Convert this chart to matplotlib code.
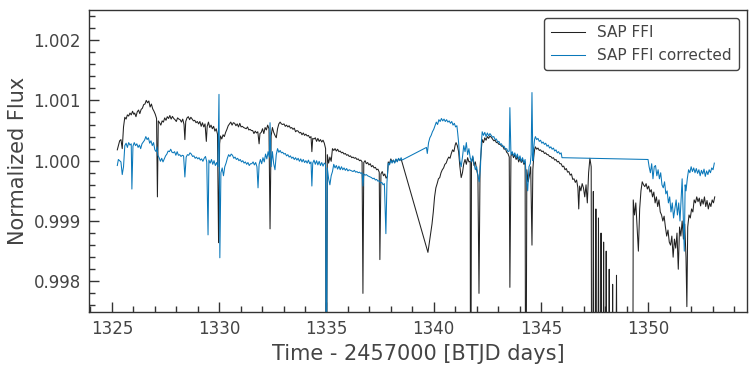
import matplotlib
matplotlib.use("Agg")
import matplotlib.pyplot as plt
from matplotlib.ticker import MultipleLocator, FormatStrFormatter
import numpy as np

# SAP FFI light curve: time (BTJD) and flux offset from 1 in ppm
sap_time = [
    1325.25, 1325.30, 1325.36, 1325.42, 1325.48, 1325.54, 1325.60, 1325.66, 1325.72, 1325.78,
    1325.84, 1325.90, 1325.96, 1326.02, 1326.06, 1326.12, 1326.18, 1326.24, 1326.30, 1326.36,
    1326.42, 1326.48, 1326.54, 1326.60, 1326.66, 1326.72, 1326.78, 1326.84, 1326.90, 1326.96,
    1327.02, 1327.08, 1327.12, 1327.16, 1327.22, 1327.28, 1327.34, 1327.40, 1327.46, 1327.52,
    1327.58, 1327.64, 1327.70, 1327.76, 1327.82, 1327.88, 1327.94, 1328.00, 1328.06, 1328.12,
    1328.18, 1328.24, 1328.30, 1328.36, 1328.40, 1328.44, 1328.50, 1328.56, 1328.62, 1328.68,
    1328.74, 1328.80, 1328.86, 1328.92, 1328.98, 1329.04, 1329.10, 1329.16, 1329.22, 1329.28,
    1329.34, 1329.40, 1329.44, 1329.50, 1329.56, 1329.62, 1329.68, 1329.74, 1329.80, 1329.86,
    1329.92, 1329.97, 1330.02, 1330.06, 1330.12, 1330.18, 1330.24, 1330.30, 1330.36, 1330.42,
    1330.48, 1330.54, 1330.60, 1330.66, 1330.72, 1330.78, 1330.84, 1330.90, 1330.96, 1331.02,
    1331.08, 1331.14, 1331.20, 1331.26, 1331.32, 1331.38, 1331.44, 1331.50, 1331.56, 1331.62,
    1331.68, 1331.74, 1331.80, 1331.86, 1331.90, 1331.96, 1332.02, 1332.08, 1332.14, 1332.20,
    1332.26, 1332.32, 1332.37, 1332.42, 1332.48, 1332.54, 1332.60, 1332.66, 1332.72, 1332.78,
    1332.84, 1332.90, 1332.96, 1333.02, 1333.08, 1333.14, 1333.20, 1333.26, 1333.32, 1333.38,
    1333.44, 1333.50, 1333.56, 1333.62, 1333.68, 1333.74, 1333.80, 1333.86, 1333.92, 1333.98,
    1334.04, 1334.10, 1334.16, 1334.22, 1334.28, 1334.32, 1334.36, 1334.42, 1334.48, 1334.54,
    1334.60, 1334.66, 1334.72, 1334.78, 1334.84, 1334.90, 1334.96, 1334.99, 1335.04, 1335.10,
    1335.16, 1335.22, 1335.28, 1335.34, 1335.40, 1335.46, 1335.52, 1335.58, 1335.64, 1335.70,
    1335.76, 1335.82, 1335.88, 1335.94, 1336.00, 1336.06, 1336.12, 1336.18, 1336.24, 1336.30,
    1336.36, 1336.42, 1336.48, 1336.54, 1336.60, 1336.66, 1336.70, 1336.74, 1336.80, 1336.86,
    1336.92, 1336.98, 1337.04, 1337.10, 1337.16, 1337.22, 1337.28, 1337.34, 1337.40, 1337.46,
    1337.49, 1337.54, 1337.60, 1337.66, 1337.72, 1337.78, 1337.84, 1337.88, 1337.94, 1338.00,
    1338.06, 1338.12, 1338.18, 1338.24, 1338.30, 1338.36, 1338.42, 1338.48, 1338.52,
    1339.73, 1339.80, 1339.86, 1339.92, 1339.98, 1340.04, 1340.10, 1340.16, 1340.22, 1340.28,
    1340.34, 1340.40, 1340.46, 1340.52, 1340.58, 1340.64, 1340.70, 1340.76, 1340.82, 1340.88,
    1340.94, 1341.00, 1341.04, 1341.10, 1341.16, 1341.22, 1341.28, 1341.34, 1341.40, 1341.46,
    1341.52, 1341.58, 1341.64, 1341.70, 1341.72, 1341.76, 1341.82, 1341.88, 1341.94, 1342.00,
    1342.06, 1342.11, 1342.16, 1342.22, 1342.26, 1342.32, 1342.38, 1342.44, 1342.50, 1342.56,
    1342.62, 1342.68, 1342.74, 1342.80, 1342.86, 1342.92, 1342.98, 1343.04, 1343.10, 1343.16,
    1343.22, 1343.28, 1343.34, 1343.40, 1343.46, 1343.52, 1343.55, 1343.60, 1343.66, 1343.72,
    1343.78, 1343.84, 1343.90, 1343.96, 1344.02, 1344.08, 1344.14, 1344.20, 1344.26, 1344.29,
    1344.34, 1344.40, 1344.46, 1344.52, 1344.58, 1344.62, 1344.66, 1344.70, 1344.74, 1344.80,
    1344.86, 1344.92, 1344.98, 1345.04, 1345.10, 1345.16, 1345.22, 1345.28, 1345.34, 1345.40,
    1345.46, 1345.52, 1345.58, 1345.64, 1345.70, 1345.76, 1345.82, 1345.88, 1345.94, 1346.00,
    1346.06, 1346.12, 1346.18, 1346.24, 1346.30, 1346.36, 1346.42, 1346.48, 1346.54, 1346.60,
    1346.66, 1346.72, 1346.76, 1346.80, 1346.86, 1346.92, 1346.98, 1347.04, 1347.10, 1347.16,
    1347.22, 1347.28, 1347.34, 1347.38, 1347.44, 1347.50, 1347.56, 1347.62, 1347.68, 1347.74,
    1347.80, 1347.86, 1347.92, 1347.98, 1348.04, 1348.10, 1348.18, 1348.26, 1348.34, 1348.42,
    1348.52, 1348.60, 1349.26,
    1349.30, 1349.36, 1349.42, 1349.48, 1349.54, 1349.60, 1349.66, 1349.72, 1349.78, 1349.84,
    1349.90, 1349.96, 1350.02, 1350.08, 1350.14, 1350.20, 1350.26, 1350.32, 1350.38, 1350.44,
    1350.50, 1350.56, 1350.62, 1350.68, 1350.74, 1350.80, 1350.86, 1350.92, 1350.98, 1351.04,
    1351.10, 1351.16, 1351.22, 1351.28, 1351.34, 1351.40, 1351.46, 1351.52, 1351.58, 1351.64,
    1351.70, 1351.76, 1351.80, 1351.84, 1351.90, 1351.96, 1352.02, 1352.08, 1352.14, 1352.20,
    1352.26, 1352.32, 1352.38, 1352.44, 1352.50, 1352.56, 1352.62, 1352.68, 1352.74, 1352.80,
    1352.86, 1352.92, 1352.98, 1353.04, 1353.10,
]
sap_ppm = [
    180, 250, 330, 350, 200, 560, 720, 690, 760, 740,
    790, 760, 820, 770, 790, 730, 810, 840, 780, 850,
    870, 930, 940, 1000, 960, 990, 890, 940, 860, 820,
    770, 700, -600, 660, 630, 590, 660, 640, 710, 670,
    730, 700, 750, 690, 735, 700, 680, 650, 710, 690,
    680, 640, 690, 600, 350, 650, 710, 730, 680, 720,
    690, 660, 670, 630, 650, 610, 650, 570, 630, 560,
    610, 320, 570, 640, 550, 590, 530, 570, 490, 530,
    440, -1360, 280, 410, 360, 430, 400, 470, 520, 580,
    610, 640, 590, 630, 620, 580, 610, 560, 620, 560,
    570, 550, 540, 530, 560, 510, 520, 500, 500, 450,
    490, 460, 480, 280, 450, 470, 530, 450, 550, 510,
    590, 530, -1130, 410, 550, 470, 420, 380, 530, 610,
    640, 610, 600, 610, 570, 590, 560, 580, 540, 550,
    520, 540, 480, 500, 490, 460, 470, 430, 460, 420,
    440, 410, 420, 380, 400, 150, 370, 360, 380, 320,
    370, 320, 350, 310, 340, 290, 200, -6000, 100, -40,
    60, -10, 200, 170, 200, 160, 190, 150, 160, 130,
    140, 110, 120, 90, 100, 70, 80, 50, 60, 40,
    50, 20, 30, 0, 10, -20, -2200, -30, 0, -50,
    -30, -70, -50, -100, -80, -120, -110, -150, -140, -190,
    -1640, -220, -180, -250, -220, -290, -260, -20, -50, 30,
    -20, 10, -30, 20, -10, 30, 10, 20, -20,
    -1520, -1350, -1200, -1050, -850, -600, -450, -380, -300, -280,
    -200, -150, -120, -60, -40, 20, 60, 40, 120, 180,
    150, 260, 300, 250, 150, -100, -280, -200, -50, 20,
    -60, 50, -20, -10, -6000, -30, 60, -80, -20, -150,
    -250, -2200, -100, 200, 350, 300, 380, 340, 400, 370,
    410, 390, 360, 330, 340, 300, 300, 270, 270, 240,
    250, 190, 200, 140, 120, 60, -2100, 80, 120, 50,
    100, 20, 70, -20, 40, -30, 20, -60, -20, -6000,
    -150, -350, -250, -100, -1400, -150, 50, 180, 230, 190,
    210, 170, 180, 150, 160, 120, 130, 100, 100, 70,
    70, 40, 50, 10, 20, -20, -10, -50, -50, -100,
    -90, -150, -130, -190, -180, -240, -220, -310, -300, -360,
    -320, -450, -800, -420, -500, -380, -450, -600, -400, -700,
    -200, 40, -100, -8000, -510, -8000, -800, -8000, -950, -8000,
    -1200, -8000, -1350, -8000, -1500, -8000, -1800, -8000, -2050, -8000,
    -1900, -8000, -8000,
    -650, -900, -700, -1100, -1500, -800, -500, -350, -400, -430,
    -380, -470, -420, -520, -480, -600, -520, -700, -600, -760,
    -650, -850, -900, -1000, -920, -1100, -1250, -1150, -1350, -1400,
    -1250, -1600, -1300, -1450, -1200, -1800, -1100, -1250, -1000, -1300,
    -1050, -1600, -2420, -1100, -900, -950, -800, -850, -650, -700,
    -600, -680, -620, -750, -640, -720, -600, -760, -660, -800,
    -700, -760, -650, -700, -600,
]

# SAP FFI corrected light curve
cor_time = [
    1325.25, 1325.30, 1325.36, 1325.42, 1325.48, 1325.54, 1325.60, 1325.66, 1325.72, 1325.78,
    1325.84, 1325.90, 1325.93, 1325.98, 1326.04, 1326.10, 1326.16, 1326.22, 1326.28, 1326.34,
    1326.40, 1326.46, 1326.52, 1326.58, 1326.64, 1326.70, 1326.76, 1326.82, 1326.88, 1326.94,
    1327.00, 1327.06, 1327.10, 1327.14, 1327.20, 1327.26, 1327.32, 1327.38, 1327.44, 1327.50,
    1327.56, 1327.62, 1327.68, 1327.74, 1327.80, 1327.86, 1327.92, 1327.98, 1328.04, 1328.10,
    1328.16, 1328.22, 1328.28, 1328.34, 1328.40, 1328.46, 1328.52, 1328.58, 1328.64, 1328.70,
    1328.76, 1328.82, 1328.88, 1328.94, 1329.00, 1329.06, 1329.12, 1329.18, 1329.24, 1329.30,
    1329.36, 1329.42, 1329.48, 1329.52, 1329.58, 1329.64, 1329.70, 1329.76, 1329.82, 1329.88,
    1329.94, 1329.99, 1330.03, 1330.08, 1330.14, 1330.20, 1330.26, 1330.32, 1330.38, 1330.44,
    1330.50, 1330.56, 1330.62, 1330.68, 1330.74, 1330.80, 1330.86, 1330.92, 1330.98, 1331.04,
    1331.10, 1331.16, 1331.22, 1331.28, 1331.34, 1331.40, 1331.46, 1331.52, 1331.58, 1331.64,
    1331.70, 1331.76, 1331.81, 1331.86, 1331.92, 1331.98, 1332.04, 1332.10, 1332.16, 1332.22,
    1332.28, 1332.34, 1332.37, 1332.42, 1332.48, 1332.54, 1332.60, 1332.66, 1332.72, 1332.78,
    1332.84, 1332.90, 1332.96, 1333.02, 1333.08, 1333.14, 1333.20, 1333.26, 1333.32, 1333.38,
    1333.44, 1333.50, 1333.56, 1333.62, 1333.68, 1333.74, 1333.80, 1333.86, 1333.92, 1333.98,
    1334.04, 1334.10, 1334.16, 1334.22, 1334.28, 1334.32, 1334.36, 1334.42, 1334.48, 1334.54,
    1334.60, 1334.66, 1334.72, 1334.78, 1334.84, 1334.90, 1334.96, 1334.99, 1335.04, 1335.10,
    1335.16, 1335.22, 1335.28, 1335.34, 1335.40, 1335.46, 1335.52, 1335.58, 1335.64, 1335.70,
    1335.76, 1335.82, 1335.88, 1335.94, 1336.00, 1336.06, 1336.12, 1336.18, 1336.24, 1336.30,
    1336.36, 1336.42, 1336.48, 1336.54, 1336.60, 1336.66, 1336.70, 1336.74, 1336.80, 1336.86,
    1336.92, 1336.98, 1337.04, 1337.10, 1337.16, 1337.22, 1337.28, 1337.34, 1337.40, 1337.46,
    1337.52, 1337.58, 1337.64, 1337.70, 1337.77, 1337.82, 1337.88, 1337.94, 1338.00, 1338.06,
    1338.12, 1338.18, 1338.24, 1338.30, 1338.36, 1338.42, 1338.48, 1338.52,
    1339.66, 1339.70, 1339.76, 1339.82, 1339.88, 1339.94, 1340.00, 1340.06, 1340.12, 1340.18,
    1340.24, 1340.30, 1340.36, 1340.42, 1340.48, 1340.54, 1340.60, 1340.66, 1340.72, 1340.78,
    1340.84, 1340.90, 1340.96, 1341.02, 1341.08, 1341.12, 1341.16, 1341.22, 1341.28, 1341.34,
    1341.40, 1341.46, 1341.52, 1341.58, 1341.64, 1341.70, 1341.76, 1341.82, 1341.88, 1341.94,
    1342.00, 1342.06, 1342.12, 1342.18, 1342.22, 1342.26, 1342.32, 1342.38, 1342.44, 1342.50,
    1342.56, 1342.62, 1342.68, 1342.74, 1342.80, 1342.86, 1342.92, 1342.98, 1343.04, 1343.10,
    1343.16, 1343.22, 1343.28, 1343.34, 1343.40, 1343.46, 1343.52, 1343.55, 1343.60, 1343.66,
    1343.72, 1343.78, 1343.84, 1343.90, 1343.96, 1344.02, 1344.08, 1344.14, 1344.20, 1344.26,
    1344.32, 1344.38, 1344.44, 1344.50, 1344.54, 1344.58, 1344.62, 1344.66, 1344.70, 1344.74,
    1344.80, 1344.86, 1344.92, 1344.98, 1345.04, 1345.10, 1345.16, 1345.22, 1345.28, 1345.34,
    1345.40, 1345.46, 1345.52, 1345.58, 1345.64, 1345.70, 1345.76, 1345.82, 1345.88, 1345.94,
    1345.98,
    1349.99, 1350.04, 1350.10, 1350.16, 1350.22, 1350.28, 1350.34, 1350.40, 1350.46, 1350.52,
    1350.58, 1350.64, 1350.70, 1350.76, 1350.82, 1350.88, 1350.94, 1351.00, 1351.06, 1351.12,
    1351.18, 1351.24, 1351.30, 1351.36, 1351.42, 1351.48, 1351.54, 1351.58, 1351.62, 1351.68,
    1351.72, 1351.76, 1351.82, 1351.88, 1351.94, 1352.00, 1352.06, 1352.12, 1352.18, 1352.24,
    1352.30, 1352.36, 1352.42, 1352.48, 1352.54, 1352.60, 1352.66, 1352.72, 1352.78, 1352.84,
    1352.90, 1352.96, 1353.02, 1353.08,
]
cor_ppm = [
    -80, 20, 0, -20, -230, -100, 250, 290, 220, 300,
    260, 280, -470, 240, 300, 250, 280, 220, 260, 200,
    280, 310, 340, 400, 350, 380, 290, 330, 250, 300,
    180, 150, 230, 90, 50, -10, 40, -20, 30, 80,
    110, 160, 150, 190, 140, 130, 150, 90, 150, 90,
    100, 70, 90, 80, -270, 60, 100, 90, 130, 110,
    70, 80, 40, 60, 30, 50, 10, 30, -10, 40,
    70, -20, -1230, 10, -40, 20, -60, 0, -80, -30,
    -100, 1100, -1610, -200, -120, -250, -100, -40, 40, 100,
    70, 110, 90, 40, 60, 20, 40, 0, 20, -20,
    0, -40, -20, -60, -30, -80, -50, -50, -20, -70,
    -30, -100, -450, -60, 20, -50, 50, -20, 110, 30,
    150, 60, 630, -100, 150, -50, -150, 100, 200, 140,
    170, 130, 140, 110, 120, 80, 100, 60, 80, 40,
    60, 20, 50, 10, 40, -10, 30, -20, 20, -30,
    0, -40, 10, -50, -20, -420, -40, 10, -60, 0,
    -70, -10, -80, -30, -90, -40, -60, -4500, -120, -300,
    -400, -250, -180, -60, -120, -80, -140, -90, -150, -100,
    -150, -120, -160, -130, -170, -150, -160, -170, -180, -160,
    -190, -180, -200, -190, -210, -200, -420, -220, -240, -230,
    -250, -260, -270, -280, -300, -290, -320, -310, -340, -330,
    -370, -360, -400, -380, -1210, -360, -40, -70, 10, -40,
    10, -40, 30, -20, 40, 0, 50, 10,
    220, 120, 300, 380, 420, 480, 520, 580, 640, 600,
    680, 650, 700, 660, 690, 650, 680, 640, 660, 620,
    650, 590, 620, 560, 580, 450, 300, 0, -100, 60,
    250, 150, 300, 100, 200, 50, -20, 80, -50, -150,
    -100, -250, -350, -100, 300, 480, 420, 470, 400, 460,
    410, 450, 420, 390, 400, 350, 360, 310, 320, 270,
    280, 230, 240, 190, 200, 150, 160, 880, 100, 150,
    80, 130, 50, 110, 20, 80, -10, 50, -40, 20,
    -300, -500, -100, -50, 100, 1130, 0, 200, 350, 400,
    350, 370, 320, 340, 290, 310, 270, 290, 240, 260,
    210, 230, 190, 210, 160, 180, 130, 150, 110, 130,
    50,
    20, -100, -200, -50, -300, -100, -80, -250, -150, -300,
    -200, -400, -450, -350, -550, -500, -700, -600, -850, -700,
    -950, -800, -650, -900, -700, -1000, -600, -300, -800, -1500,
    -400, -500, -300, -150, -200, -100, -180, -120, -200, -130,
    -210, -150, -250, -160, -220, -140, -260, -170, -230, -150,
    -200, -120, -150, -40,
]

sap_flux = 1 + np.array(sap_ppm) * 1e-6
cor_flux = 1 + np.array(cor_ppm) * 1e-6

grey = '#444444'
plt.rcParams['font.family'] = 'DejaVu Sans'
plt.rcParams['text.color'] = grey
plt.rcParams['axes.labelcolor'] = grey
plt.rcParams['xtick.color'] = '#333333'
plt.rcParams['ytick.color'] = '#333333'
plt.rcParams['xtick.labelcolor'] = grey
plt.rcParams['ytick.labelcolor'] = grey

fig = plt.figure(figsize=(7.56, 3.68), dpi=100)
ax = fig.add_axes([0.1177, 0.152, 0.8703, 0.821])

ax.plot(sap_time, sap_flux, color='#222222', lw=0.75, label='SAP FFI')
ax.plot(cor_time, cor_flux, color='#0a78ba', lw=0.75, label='SAP FFI corrected')

ax.set_xlim(1323.93, 1354.6)
ax.set_ylim(0.99749, 1.0025)

ax.xaxis.set_major_locator(MultipleLocator(5))
ax.xaxis.set_minor_locator(MultipleLocator(1))
ax.yaxis.set_major_locator(MultipleLocator(0.001))
ax.yaxis.set_minor_locator(MultipleLocator(0.0002))
ax.yaxis.set_major_formatter(FormatStrFormatter('%.3f'))
ax.tick_params(which='both', direction='in', top=False, right=False, labelsize=12)
ax.tick_params(which='major', length=7, width=1, pad=6)
ax.tick_params(which='minor', length=4, width=1)
for s in ax.spines.values():
    s.set_color('#333333')
    s.set_linewidth(1)

ax.set_xlabel('Time - 2457000 [BTJD days]', fontsize=15)
ax.set_ylabel('Normalized Flux', fontsize=15)

leg = ax.legend(loc='upper right', fontsize=11, frameon=True, fancybox=True,
                framealpha=1, handlelength=2.2, borderpad=0.5)
leg.get_frame().set_edgecolor('#444444')
leg.get_frame().set_linewidth(1)

fig.savefig('out.png', dpi=100)
